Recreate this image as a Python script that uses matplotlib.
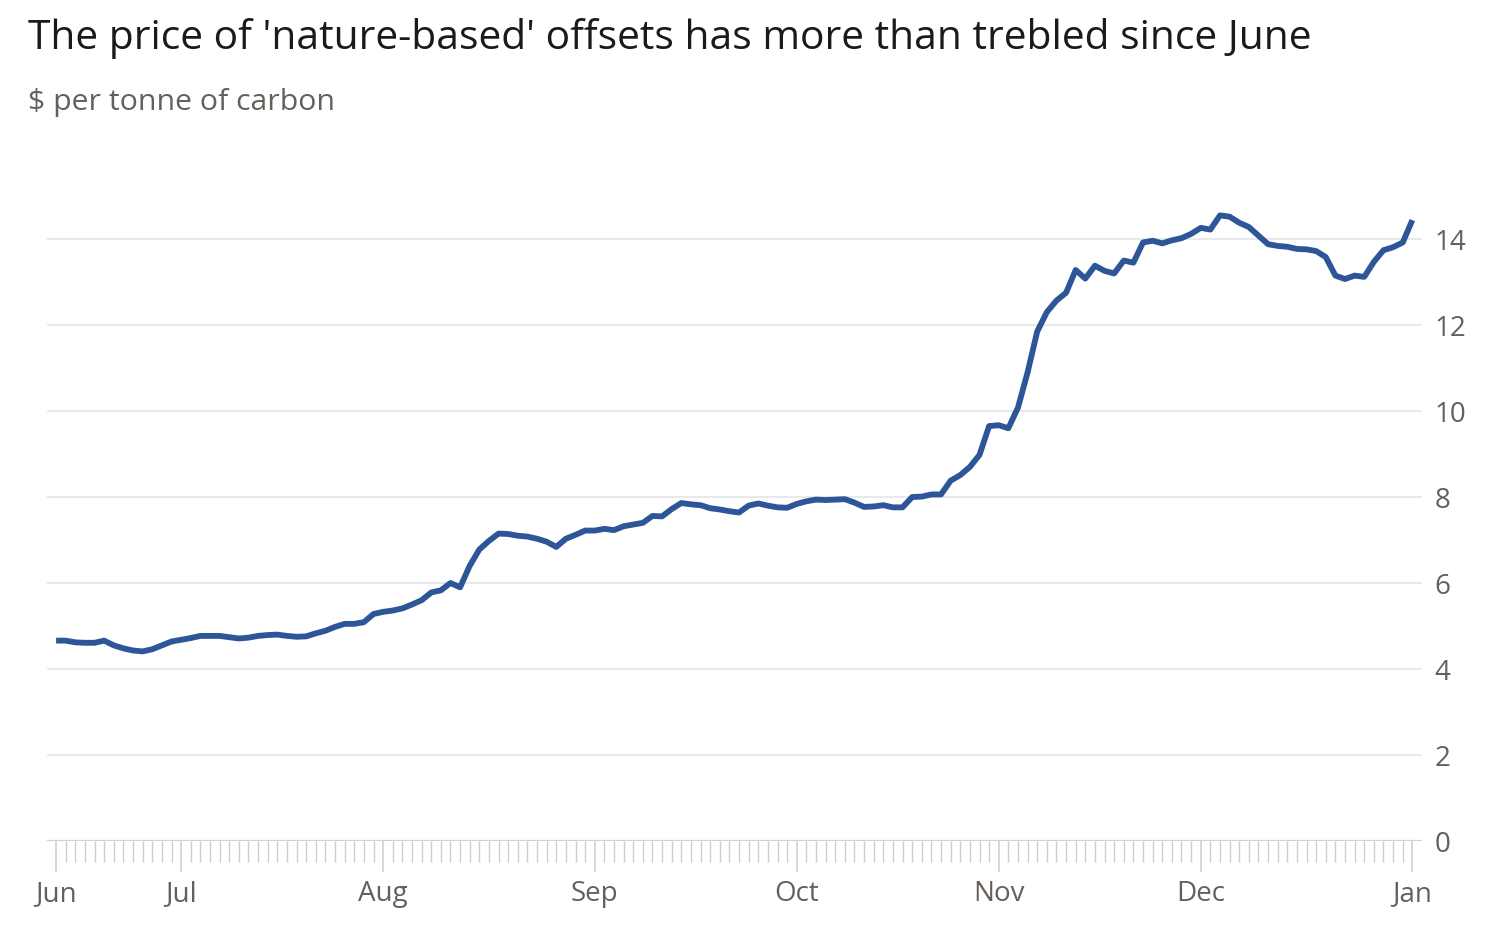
import numpy as np
import pandas as pd
import matplotlib
matplotlib.use("Agg")
import matplotlib.pyplot as plt
import matplotlib.transforms as mtransforms

# ---- data ----
start_date = "2021-06-14"
end_date = "2022-01-03"
holidays = ["2021-07-05", "2021-09-06", "2021-11-25", "2021-12-24"]

prices = [
    4.66, 4.66, 4.62, 4.61, 4.61, 4.66, 4.55, 4.48, 4.43, 4.41,
    4.46, 4.55, 4.64, 4.68, 4.72, 4.77, 4.77, 4.77, 4.74, 4.71,
    4.73, 4.77, 4.79, 4.80, 4.77, 4.75, 4.76, 4.83, 4.89, 4.98,
    5.05, 5.05, 5.09, 5.28, 5.33, 5.36, 5.41, 5.50, 5.60, 5.78,
    5.83, 6.00, 5.90, 6.40, 6.78, 6.98, 7.15, 7.14, 7.10, 7.08,
    7.03, 6.96, 6.84, 7.03, 7.12, 7.22, 7.22, 7.26, 7.23, 7.32,
    7.36, 7.40, 7.56, 7.55, 7.72, 7.86, 7.83, 7.81, 7.74, 7.71,
    7.67, 7.64, 7.80, 7.85, 7.80, 7.76, 7.75, 7.84, 7.90, 7.94,
    7.93, 7.94, 7.95, 7.87, 7.77, 7.78, 7.81, 7.76, 7.76, 8.00,
    8.01, 8.06, 8.06, 8.38, 8.51, 8.70, 8.98, 9.65, 9.67, 9.60,
    10.08, 10.90, 11.85, 12.30, 12.57, 12.75, 13.28, 13.08, 13.38, 13.26,
    13.20, 13.50, 13.45, 13.92, 13.96, 13.90, 13.97, 14.02, 14.12, 14.26,
    14.22, 14.55, 14.52, 14.38, 14.28, 14.08, 13.88, 13.84, 13.82, 13.77,
    13.76, 13.72, 13.58, 13.15, 13.07, 13.15, 13.12, 13.47, 13.74, 13.81,
    13.92, 14.44,
]
y_ticks = [0, 2, 4, 6, 8, 10, 12, 14]
month_labels = ["Jun", "Jul", "Aug", "Sep", "Oct", "Nov", "Dec", "Jan"]

title = "The price of 'nature-based' offsets has more than trebled since June"
subtitle = "$ per tonne of carbon"

# ---- trading-day calendar (ordinal x axis) ----
dates = pd.bdate_range(start_date, end_date)
dates = dates[~dates.isin(pd.to_datetime(holidays))]
assert len(dates) == len(prices)
idx = np.arange(len(dates))
month_pos = [0] + [i for i in range(1, len(dates)) if dates[i].month != dates[i - 1].month]

# ---- style ----
FONT = ["Open Sans", "DejaVu Sans"]
plt.rcParams["font.family"] = FONT
line_color = "#2c5697"
grid_color = "#e3e3e3"
axis_color = "#cfcfcf"
text_gray = "#66605c"

fig = plt.figure(figsize=(15.10, 9.38), dpi=100)
fig.patch.set_facecolor("white")
ax = fig.add_axes([0.0311, 0.1034, 0.9106, 0.6876])

ax.plot(idx, prices, color=line_color, lw=4.2, solid_joinstyle="round",
        solid_capstyle="butt", zorder=3)

ax.set_xlim(-0.95, 142.0)
ax.set_ylim(0, 15)

for s in ax.spines.values():
    s.set_visible(False)

# horizontal grid
for t in y_ticks[1:]:
    ax.axhline(t, color=grid_color, lw=1.1, zorder=1)
ax.axhline(0, color=axis_color, lw=1.6, zorder=2)

ax.yaxis.tick_right()
ax.set_yticks(y_ticks)
ax.set_yticklabels([str(t) for t in y_ticks])
ax.tick_params(axis="y", length=0, pad=9, labelsize=20, labelcolor=text_gray)
shift = mtransforms.ScaledTranslation(0, -4 / 100, fig.dpi_scale_trans)
for lab in ax.get_yticklabels():
    lab.set_verticalalignment("center")
    lab.set_transform(lab.get_transform() + shift)

ax.set_xticks(month_pos)
ax.set_xticklabels(month_labels)
ax.set_xticks(idx, minor=True)
ax.tick_params(axis="x", which="major", length=22, width=1.2, color=axis_color,
               pad=6, labelsize=20, labelcolor=text_gray)
ax.tick_params(axis="x", which="minor", length=15, width=1.0, color=axis_color)

fig.text(0.0185, 0.959, title, fontsize=29.3, color="#1a1a1a", va="center", ha="left")
fig.text(0.0185, 0.891, subtitle, fontsize=21.8, color=text_gray, va="center", ha="left")

fig.savefig("out.png", dpi=100, facecolor="white")
